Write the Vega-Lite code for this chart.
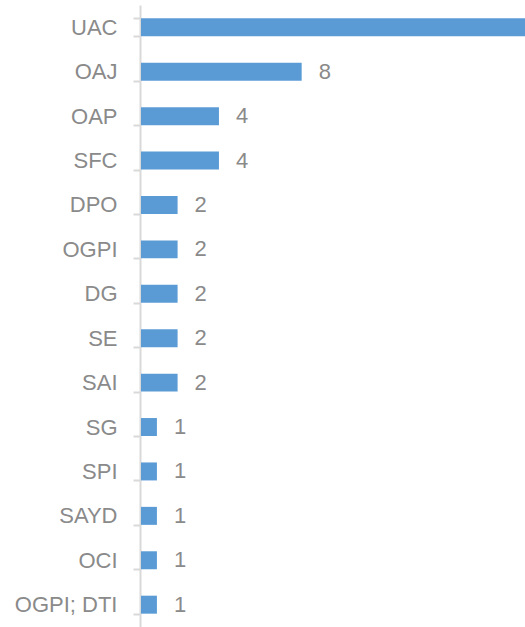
{
  "$schema": "https://vega.github.io/schema/vega-lite/v6.json",
  "width": 384,
  "height": 622,
  "autosize": {"type": "none"},
  "padding": {"left": 141, "top": 5, "right": 0, "bottom": 0},
  "background": "white",
  "config": {"view": {"stroke": null}},
  "data": {"values": [
    {"cat": "UAC", "n": 19},
    {"cat": "OAJ", "n": 8},
    {"cat": "OAP", "n": 4},
    {"cat": "SFC", "n": 4},
    {"cat": "DPO", "n": 2},
    {"cat": "OGPI", "n": 2},
    {"cat": "DG", "n": 2},
    {"cat": "SE", "n": 2},
    {"cat": "SAI", "n": 2},
    {"cat": "SG", "n": 1},
    {"cat": "SPI", "n": 1},
    {"cat": "SAYD", "n": 1},
    {"cat": "OCI", "n": 1},
    {"cat": "OGPI; DTI", "n": 1}
  ]},
  "encoding": {
    "y": {
      "field": "cat", "type": "nominal", "sort": null,
      "scale": {"paddingInner": 0.595, "paddingOuter": 0.3},
      "axis": {
        "title": null,
        "tickBand": "extent",
        "offset": 1,
        "domainColor": "#d9d9d9", "domainWidth": 2,
        "tickColor": "#d9d9d9", "tickWidth": 2, "tickSize": 7,
        "labelPadding": 16,
        "labelFont": "Liberation Sans", "labelFontSize": 22,
        "labelColor": "#8a8a8a", "labelFontWeight": "normal"
      }
    },
    "x": {
      "field": "n", "type": "quantitative",
      "scale": {"domain": [0.23, 18.8], "nice": false, "zero": false},
      "axis": null
    }
  },
  "layer": [
    {"mark": {"type": "bar", "color": "#5b9bd5", "clip": true}},
    {"transform": [{"filter": "datum.n < 18"}],
     "mark": {"type": "text", "align": "left", "baseline": "middle", "dx": 17,
              "font": "Liberation Sans", "fontSize": 22, "color": "#8a8a8a", "clip": true},
     "encoding": {"text": {"field": "n", "type": "quantitative"}}}
  ]
}
